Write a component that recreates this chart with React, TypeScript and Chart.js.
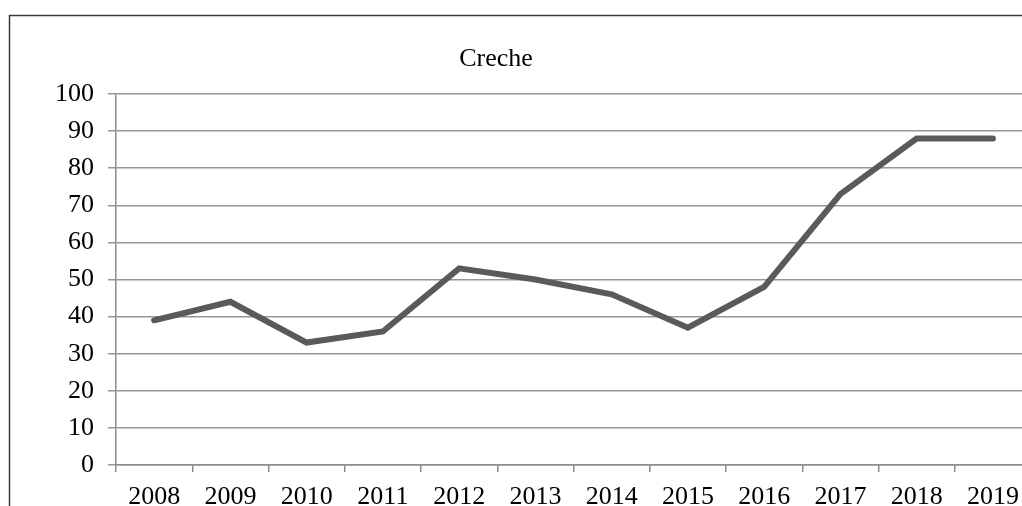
import React, { useEffect, useRef } from "react";
import { Chart, registerables } from "chart.js";

Chart.register(...registerables);

const years: string[] = ["2008", "2009", "2010", "2011", "2012", "2013", "2014", "2015", "2016", "2017", "2018", "2019"];
const crecheValues: number[] = [39, 44, 33, 36, 53, 50, 46, 37, 48, 73, 88, 88];
const chartTitle = "Creche";

const yMin = 0;
const yMax = 100;
const yStep = 10;

const FONT = '"Liberation Serif", "Times New Roman", serif';
const CANVAS_W = 1070;
const CANVAS_H = 540;

// Outer frame and the title line drawn straight onto the canvas.
const framePlugin = {
  id: "frameAndTitle",
  beforeDraw(chart: Chart) {
    const ctx = chart.ctx;
    ctx.save();
    ctx.fillStyle = "#ffffff";
    ctx.fillRect(0, 0, chart.width, chart.height);
    ctx.strokeStyle = "#3a3a3a";
    ctx.lineWidth = 1.5;
    ctx.strokeRect(9.5, 15.5, chart.width + 40, chart.height + 40);
    ctx.restore();
  },
  afterDraw(chart: Chart) {
    const ctx = chart.ctx;
    ctx.save();
    ctx.fillStyle = "#000000";
    ctx.font = `26px ${FONT}`;
    ctx.textAlign = "center";
    ctx.textBaseline = "alphabetic";
    ctx.fillText(chartTitle, 496, 66);
    ctx.restore();
  },
};

export default function App() {
  const canvasRef = useRef<HTMLCanvasElement | null>(null);

  useEffect(() => {
    const canvas = canvasRef.current;
    if (!canvas) return;
    const chart = new Chart(canvas, {
      type: "line",
      data: {
        labels: years,
        datasets: [
          {
            label: chartTitle,
            data: crecheValues,
            borderColor: "#5a5a5a",
            backgroundColor: "#5a5a5a",
            borderWidth: 6,
            borderCapStyle: "round",
            borderJoinStyle: "miter",
            pointRadius: 0,
            pointHoverRadius: 0,
            tension: 0,
            fill: false,
          },
        ],
      },
      options: {
        responsive: false,
        animation: false,
        devicePixelRatio: 1,
        layout: {
          padding: { top: 94, right: 39, bottom: 0, left: 0 },
        },
        plugins: {
          legend: { display: false },
          title: { display: false },
          tooltip: { enabled: false },
        },
        scales: {
          x: {
            type: "category",
            offset: true,
            grid: {
              offset: true,
              drawOnChartArea: false,
              drawTicks: true,
              tickLength: 7,
              color: "#8c8c8c",
              lineWidth: 1.5,
            },
            border: { display: true, color: "#8c8c8c", width: 1.5 },
            ticks: {
              color: "#000000",
              font: { family: FONT, size: 26 },
              padding: 10,
              maxRotation: 0,
              autoSkip: false,
            },
            afterFit(scale: any) {
              scale.height = CANVAS_H - 465;
            },
          },
          y: {
            min: yMin,
            max: yMax,
            grid: {
              color: "#969696",
              lineWidth: 1.5,
              drawTicks: true,
              tickLength: 8,
            },
            border: { display: true, color: "#8c8c8c", width: 1.5 },
            ticks: {
              stepSize: yStep,
              color: "#000000",
              font: { family: FONT, size: 26 },
              padding: 14,
            },
            afterFit(scale: any) {
              scale.width = 116;
            },
          },
        },
      },
      plugins: [framePlugin],
    });
    return () => chart.destroy();
  }, []);

  return (
    <div
      style={{
        position: "absolute",
        left: 0,
        top: 0,
        width: 1022,
        height: 506,
        overflow: "hidden",
        background: "#ffffff",
      }}
    >
      <canvas
        ref={canvasRef}
        width={CANVAS_W}
        height={CANVAS_H}
        style={{ display: "block", width: CANVAS_W, height: CANVAS_H }}
      />
    </div>
  );
}
